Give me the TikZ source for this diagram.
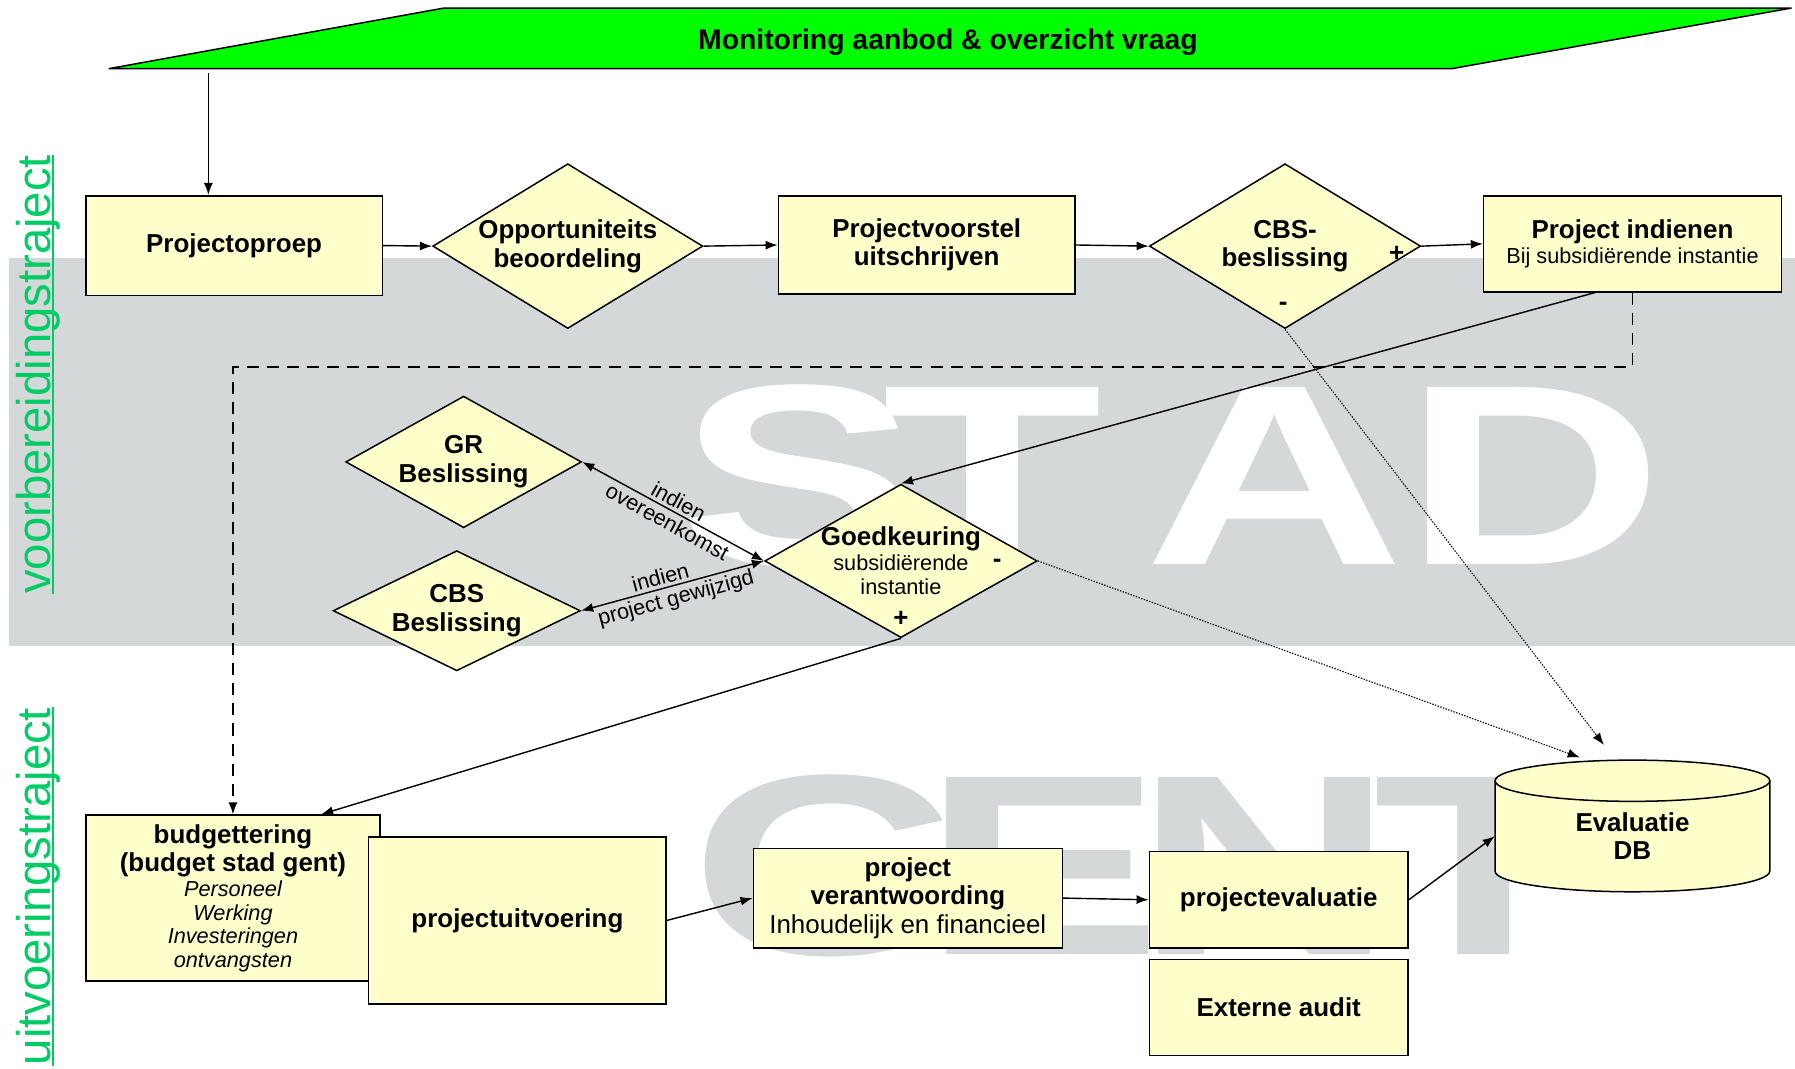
\documentclass[tikz,border=0pt]{standalone}
\usepackage{fontspec}
\setmainfont{Liberation Sans}
\usepackage{graphicx}
\usepackage{tikz}
\usetikzlibrary{arrows,arrows.meta,shapes,positioning,calc}
\definecolor{gentyellow}{RGB}{255,255,204}
\definecolor{gentgreen}{RGB}{0,255,0}
\definecolor{gentgrey}{RGB}{213,216,216}
\definecolor{trajectgreen}{RGB}{0,204,102}
\newcommand{\boxfont}{\fontsize{12.9}{14.2}\selectfont\bfseries}
\newcommand{\subfont}{\fontsize{10.8}{12.2}\selectfont\mdseries}
\newcommand{\bannerfont}{\fontsize{14.1}{16}\selectfont\bfseries}
\newcommand{\wmfont}{\fontsize{128}{128}\selectfont\bfseries}
\tikzstyle{process} = [rectangle, draw=black, fill=gentyellow, line width=0.75pt, align=center, font=\boxfont, inner sep=2pt]
\tikzstyle{decision} = [diamond, draw=black, fill=gentyellow, line width=0.75pt, align=center, font=\boxfont, inner sep=-8pt]
\tikzstyle{arrow} = [line width=0.7pt,-{Latex[length=6pt,width=4.5pt]}]
\tikzstyle{dasharrow} = [arrow, dash pattern=on 6pt off 4pt]
\tikzstyle{dotarrow} = [arrow, line width=0.55pt, dash pattern=on 0.7pt off 0.7pt]
\tikzstyle{biarrow} = [line width=0.7pt,{Latex[length=6pt,width=4.5pt]}-{Latex[length=6pt,width=4.5pt]}]
\tikzstyle{sign} = [font=\boxfont, inner sep=0pt]
\tikzstyle{edgelabel} = [font=\subfont, inner sep=1.5pt, sloped]
\tikzstyle{watermark} = [font=\wmfont, anchor=base, inner sep=0pt]
\tikzstyle{traject} = [font=\fontsize{23.5}{26}\selectfont, text=trajectgreen, rotate=90, anchor=base east, inner sep=0pt]

\begin{document}
\begin{tikzpicture}[x=0.02cm, y=-0.02cm]
\useasboundingbox (0,0) rectangle (1568,933);
% grey band with STAD GENT watermark
\fill[gentgrey] (8,225) rectangle (1568,564);
\foreach \wmchar/\wmx in {S/698,T/867,A/1113,D/1340}
  \node[watermark, text=white] (stad\wmchar) at (\wmx,493) {\scalebox{1.4}[1]{\wmchar}};
\foreach \wmchar/\wmx in {G/726,E/911,N/1105,T/1296}
  \node[watermark, text=gentgrey] (gent\wmchar) at (\wmx,834) {\scalebox{1.4}[1]{\wmchar}};

% phase labels
\node[traject] (voorb) at (44,135) {voorbereidingstraject};
\draw[trajectgreen, line width=1.1pt] ($(voorb.base west)+(2.5,0)$) -- ($(voorb.base east)+(2.5,0)$);
\node[traject] (uitv) at (44,618) {uitvoeringstraject};
\draw[trajectgreen, line width=1.1pt] ($(uitv.base west)+(2.5,0)$) -- ($(uitv.base east)+(2.5,0)$);

% monitoring banner
\draw[fill=gentgreen, line width=0.75pt] (95,60) -- (388,7) -- (1565,7) -- (1268,60) -- cycle;
\node[font=\bannerfont] (monitor) at (828,36.5) {Monitoring aanbod \& overzicht vraag};
\coordinate (monout) at (182,64);

% voorbereidingstraject
\node[process, minimum width=5.18cm, minimum height=1.74cm] (proep) at (204.5,214.5) {Projectoproep};
\node[decision, minimum width=4.72cm, minimum height=2.88cm, aspect=1.64] (opp) at (496,215) {Opportuniteits\\beoordeling};
\node[process, minimum width=5.18cm, minimum height=1.72cm] (voorstel) at (809.5,214) {Projectvoorstel\\uitschrijven};
\node[decision, minimum width=4.74cm, minimum height=2.88cm, aspect=1.65] (cbsa) at (1122.5,215) {CBS-\\beslissing};
\node[process, minimum width=5.2cm, minimum height=1.68cm] (indienen) at (1426,213) {Project indienen\\[-2pt]{\subfont Bij subsidiërende instantie}};
\node[decision, minimum width=4.12cm, minimum height=2.3cm, aspect=1.79] (gr) at (405,403.5) {GR\\Beslissing};
\node[decision, minimum width=4.32cm, minimum height=2.1cm, aspect=2.06] (cbsb) at (399,533.5) {CBS\\Beslissing};
\node[decision, minimum width=4.76cm, minimum height=2.68cm, aspect=1.78] (goed) at (787,490) {Goedkeuring\\[-2pt]{\subfont subsidiërende}\\[-2pt]{\subfont instantie}};
\node[sign] (cbsplus) at (1220,222) {+};
\node[sign] (cbsmin) at (1121,268) {-};
\node[sign] (goedmin) at (871,492) {-};
\node[sign] (goedplus) at (787,541) {+};

% uitvoeringstraject
\node[process, minimum width=5.14cm, minimum height=2.9cm] (budget) at (203.5,784.5) {budgettering\\(budget stad gent)\\[-2pt]{\subfont\itshape Personeel}\\[-2.5pt]{\subfont\itshape Werking}\\[-2.5pt]{\subfont\itshape Investeringen}\\[-2.5pt]{\subfont\itshape ontvangsten}};
\node[process, minimum width=5.2cm, minimum height=2.92cm] (uitvoer) at (452,804) {projectuitvoering};
\node[process, minimum width=5.4cm, minimum height=1.74cm] (verant) at (793,784.5) {project\\verantwoording\\{\mdseries Inhoudelijk en financieel}};
\node[process, minimum width=4.52cm, minimum height=1.68cm] (evalu) at (1117,786) {projectevaluatie};
\node[process, minimum width=4.52cm, minimum height=1.68cm] (audit) at (1117,880) {Externe audit};

% database
\path[fill=gentyellow] (1306,682) -- (1306,761) arc[start angle=180, end angle=360, x radius=2.4cm, y radius=0.36cm] -- (1546,682) arc[start angle=0, end angle=180, x radius=2.4cm, y radius=0.36cm] -- cycle;
\draw[line width=0.75pt] (1306,682) -- (1306,761) arc[start angle=180, end angle=360, x radius=2.4cm, y radius=0.36cm] -- (1546,682);
\draw[line width=0.75pt] (1426,682) ellipse[x radius=2.4cm, y radius=0.36cm];
\node[font=\boxfont, align=center, minimum width=4.8cm, minimum height=1.94cm, inner sep=0pt] (db) at (1426,730.5) {Evaluatie\\DB};

% connectors
\draw[arrow] (monout) -- (monout |- proep.north);
\draw[arrow] (proep.east) -- (opp.west);
\draw[arrow] (opp.east) -- (voorstel.west);
\draw[arrow] (voorstel.east) -- (cbsa.west);
\draw[arrow] (cbsa.east) -- (indienen.west);
\draw[dasharrow] (indienen.south) -- ++(0,65) -| (budget.north);
\draw[arrow] ($(indienen.south)+(-33,0)$) -- (goed.north);
\draw[dotarrow] (cbsa.south) -- ($(db.north)+(-25,-31)$);
\draw[dotarrow] (goed.east) -- ($(db.north)+(-46,-20)$);
\draw[biarrow] (gr.east) -- node[edgelabel, above] (lblgra) {indien} node[edgelabel, below] (lblgrb) {overeenkomst} (goed.west);
\draw[biarrow] (cbsb.east) -- node[edgelabel, above, pos=0.45] (lblcbsa) {indien} node[edgelabel, below] (lblcbsb) {project gewijzigd} (goed.west);
\draw[arrow] (goed.south) -- ($(budget.north)+(77,0)$);
\draw[arrow] (uitvoer.east) -- (verant.west);
\draw[arrow] (verant.east) -- (evalu.west);
\draw[arrow] (evalu.east) -- (db.west);
\end{tikzpicture}
\end{document}
